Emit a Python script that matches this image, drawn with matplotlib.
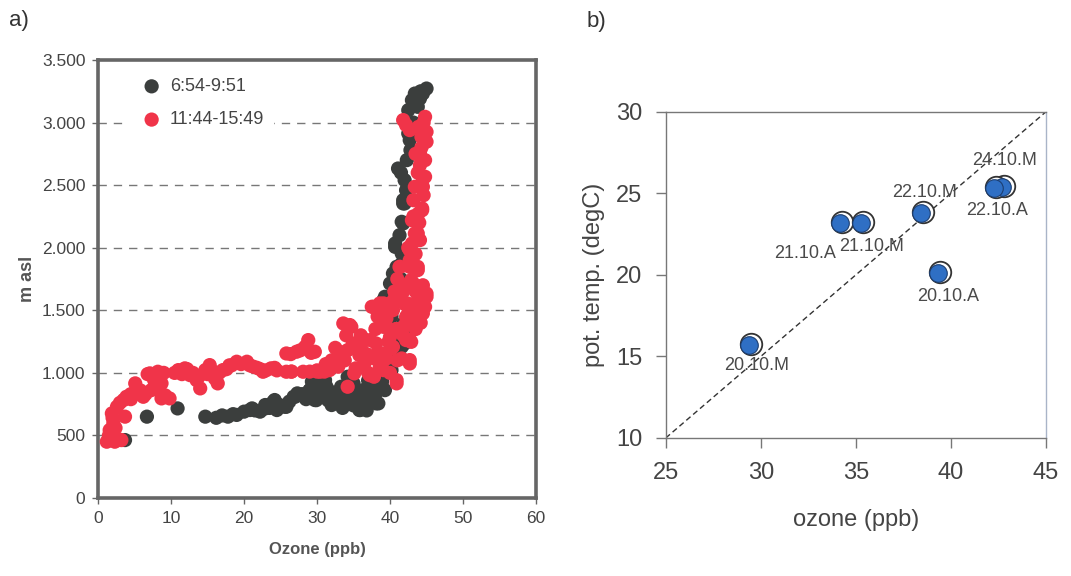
import numpy as np
import matplotlib.pyplot as plt
from matplotlib.ticker import FuncFormatter
from matplotlib.transforms import offset_copy

plt.rcParams['font.family'] = ['Liberation Sans', 'DejaVu Sans']

# panel a) ozone profiles, morning flights
morning_ozone = [3.7, 6.7, 10.9, 14.7, 16.2, 17.8, 19.0, 20.8, 22.2, 22.9, 24.0, 24.5,
                 25.8, 26.8, 27.3, 29.0, 29.9, 30.8, 31.1, 31.5, 32.4, 33.3, 34.2, 35.4,
                 35.8, 36.7, 37.6, 38.1, 38.6, 39.1, 39.5, 40.4, 41.3, 42.0, 41.8, 39.1,
                 40.0, 40.4, 40.9, 40.7, 41.6, 41.8, 42.0, 41.8, 42.0, 41.1, 42.3, 42.7,
                 42.5, 42.5, 43.0, 43.4, 44.5, 45.0, 44.1, 43.8,
                 21.1, 22.9, 24.2, 25.6, 27.0, 29.0, 29.7, 30.5, 31.3, 32.0, 35.2, 35.9,
                 36.6, 38.4, 38.9, 39.3, 40.2, 35.2,
                 41.8, 41.6, 40.7, 41.6, 40.5, 39.3, 38.9, 42.1, 41.6, 35.0, 36.3, 37.7, 38.9,
                 17.0, 18.5, 20.0, 21.5, 23.5, 24.8, 26.2, 28.0, 28.5, 30.0, 31.8, 33.0,
                 34.0, 35.0, 36.0, 36.8, 37.2, 34.5, 33.5, 32.6, 30.3, 29.3, 38.0, 37.0,
                 39.8, 40.8, 41.2, 40.2, 41.0, 41.5, 41.3, 42.2, 42.8, 43.2, 43.6, 44.2,
                 42.9, 41.5]
morning_alt = [463, 650, 716, 650, 641, 650, 664, 703, 690, 716, 769, 703,
               729, 809, 836, 862, 782, 862, 942, 782, 836, 889, 969, 809,
               703, 836, 889, 756, 942, 1022, 1155, 1235, 1315, 1235, 1395, 1581,
               1714, 1794, 1847, 2007, 1954, 2194, 2354, 2380, 2540, 2633, 2700, 2860,
               2913, 3099, 3179, 3232, 3232, 3272, 3192, 3126,
               716, 743, 783, 729, 809, 862, 783, 809, 889, 743, 783, 703,
               809, 756, 942, 862, 1022, 862,
               2354, 2207, 2034, 1874, 1714, 1608, 1475, 1315, 1208, 916, 862, 783, 929,
               660, 670, 690, 700, 720, 745, 770, 830, 790, 840, 850, 800,
               760, 740, 760, 700, 760, 840, 720, 760, 900, 930, 830, 940,
               1100, 1200, 1280, 1450, 1650, 1750, 2100, 2460, 2780, 3000, 3150, 3250,
               2900, 2600]

# panel a) ozone profiles, afternoon flights
afternoon_ozone = [1.2, 2.3, 3.2, 1.6, 2.1, 1.9, 2.6, 3.5, 3.7, 3.9, 5.1, 5.3,
                   6.2, 7.1, 8.2, 7.3, 8.7, 8.7, 9.8, 11.0, 11.9, 12.6, 13.5, 14.0,
                   14.7, 15.3, 16.0, 16.4, 17.1, 19.0, 20.4, 21.3, 22.6, 23.7, 25.8, 25.8,
                   27.2, 28.1, 28.8, 29.7, 30.4, 31.7, 32.9, 33.1, 33.6, 34.5, 34.2, 34.9,
                   35.3, 35.8, 36.3, 37.2, 37.9, 38.1, 37.5, 38.6, 39.1, 39.5, 40.2, 40.9,
                   41.6, 42.7, 42.7, 39.5, 40.4, 41.3, 42.5, 43.9, 44.8, 45.0, 44.1, 43.2,
                   41.3, 42.7, 43.8, 42.7, 43.4, 44.1, 43.9, 44.4, 43.2, 43.4, 44.5, 44.8,
                   44.1, 44.8, 44.1, 45.0, 44.3, 45.0, 44.8, 43.9, 42.7, 41.8,
                   37.7, 39.1, 40.5, 42.4, 43.8, 45.0, 44.5, 43.8, 42.2, 41.4, 42.9, 44.1,
                   42.7, 43.8, 41.4, 43.0, 43.8, 43.0, 44.4, 39.5, 40.0, 40.4, 39.1, 38.6,
                   37.3, 36.0, 34.7, 34.2, 35.1, 36.5, 37.8, 39.1, 40.9, 42.7, 42.2, 42.9,
                   4.5, 6.8, 9.0, 13.0, 18.0, 24.5, 26.5, 30.0, 32.0, 36.8, 41.0, 43.5,
                   10.5, 11.5, 12.2, 13.0, 13.8, 15.0, 15.8, 16.6, 17.6, 18.3, 19.6, 20.8,
                   21.8, 22.2, 23.0, 24.2, 26.4, 26.5, 27.7, 28.4, 29.2, 29.0, 30.0, 31.0,
                   31.2, 32.3, 32.5, 33.8, 34.0, 35.5, 36.0, 36.7, 37.0, 38.0, 38.3, 39.0,
                   39.8, 40.6, 41.0, 41.8, 42.0, 43.0, 43.5, 44.0, 44.5, 42.0, 43.5, 44.2,
                   41.8, 40.8, 41.0, 40.0, 38.2, 39.8, 42.5, 43.5, 44.0, 43.2, 44.6, 43.8,
                   44.5, 43.5, 44.3, 44.6, 42.2, 1.5, 2.8, 2.0, 3.0, 4.5, 5.8, 6.5,
                   7.7, 8.0, 9.2, 2.4]
afternoon_alt = [450, 450, 463, 543, 596, 676, 729, 783, 650, 809, 916, 836,
                 809, 996, 1009, 862, 916, 796, 796, 1022, 1036, 982, 942, 876,
                 1022, 1062, 956, 916, 1022, 1089, 1089, 1049, 1009, 1036, 1155, 1009,
                 1169, 1009, 1262, 1169, 1009, 1022, 1049, 1169, 1395, 1382, 889, 1235,
                 1036, 1142, 1275, 982, 1115, 1235, 1528, 1555, 1368, 1115, 1195, 942,
                 1115, 1102, 1262, 1435, 1501, 1581, 1475, 1448, 1528, 1634, 1661, 1714,
                 1847, 1847, 1821, 1980, 2114, 2061, 2274, 2314, 2380, 2487, 2487, 2567,
                 2660, 2700, 2753, 2847, 2886, 2926, 3046, 2966, 2940, 3020,
                 1528, 1555, 1581, 1555, 1581, 1608, 1475, 1422, 1448, 1714, 1741, 1688,
                 1900, 1847, 1847, 2034, 2114, 2220, 2300, 1368, 1288, 1208, 1155, 1049,
                 1262, 1208, 1368, 1182, 996, 1075, 969, 1022, 916, 1075, 1262, 1248,
                 830, 990, 1000, 990, 1060, 1020, 1010, 1010, 1100, 1150, 1350, 1380,
                 1000, 990, 1030, 1000, 970, 990, 1010, 1000, 1030, 1060, 1070, 1060,
                 1040, 1030, 1020, 1040, 1150, 1010, 1180, 1210, 1160, 1010, 1020, 1010,
                 1070, 1060, 1200, 1100, 1300, 1200, 1300, 1100, 1000, 1350, 1450, 1500,
                 1550, 1650, 1750, 1650, 1550, 1500, 1650, 1550, 1700, 1380, 1350, 1400,
                 1300, 1350, 1100, 1000, 1150, 1250, 2000, 1950, 2200, 2250, 2420, 2600,
                 2550, 2750, 2800, 3000, 2980, 500, 470, 640, 760, 790, 860, 830,
                 940, 870, 820, 560]

# panel b) flight means
flight_ozone = [29.4, 34.16, 35.25, 38.42, 39.33, 42.66, 42.26]
flight_theta = [15.7, 23.2, 23.2, 23.77, 20.09, 25.36, 25.3]
flight_names = ['20.10.M', '21.10.A', '21.10.M', '22.10.M', '20.10.A', '24.10.M', '22.10.A']
name_offsets = [(7, -21), (-35, -31), (11, -24), (4, 21), (10, -23), (3, 27), (3, -22)]

fig = plt.figure(figsize=(10.71, 5.76), dpi=100)

# ---- panel a
ax1 = fig.add_axes([0.0915, 0.1354, 0.409, 0.7604])
black = '#3b3e3d'
red = '#f03449'
ax1.scatter(morning_ozone, morning_alt, s=105, color=black, edgecolors='none',
            label='6:54-9:51', zorder=3)
ax1.scatter(afternoon_ozone, afternoon_alt, s=105, color=red, edgecolors='none',
            label='11:44-15:49', zorder=4)
ax1.set_xlim(0, 60)
ax1.set_ylim(0, 3500)
ax1.set_xticks(range(0, 61, 10))
ax1.set_yticks(range(0, 3501, 500))
ax1.yaxis.set_major_formatter(FuncFormatter(lambda v, p: f'{int(v):,}'.replace(',', '.')))
for v in range(500, 3001, 500):
    ax1.axhline(v, color='#777777', lw=1.0, ls=(0, (6, 5)), zorder=1)
for s in ax1.spines.values():
    s.set_color('#666666')
    s.set_linewidth(2.6)
ax1.tick_params(direction='out', length=4, width=1, color='#666666',
                labelsize=12.5, labelcolor='#444444', pad=5)
ax1.set_xlabel('Ozone (ppb)', fontsize=12, fontweight='bold', color='#555555',
               family=['Liberation Sans Narrow', 'Liberation Sans'], labelpad=12)
ax1.set_ylabel('m asl', fontsize=13, fontweight='bold', color='#555555',
               family=['Liberation Sans Narrow', 'Liberation Sans'], labelpad=4)
leg = ax1.legend(loc='upper left', bbox_to_anchor=(0.04, 1.0), frameon=True,
                 framealpha=1, edgecolor='white', fontsize=13, handletextpad=0.0,
                 labelspacing=0.9, borderpad=0.5, markerscale=1.0)
for t in leg.get_texts():
    t.set_color('#444444')

# ---- panel b
ax2 = fig.add_axes([0.6216, 0.2396, 0.3551, 0.5665])
ax2.plot([25, 45], [10, 30], color='#333333', lw=1.0, ls=(0, (4, 2.5)), zorder=2)
ring = offset_copy(ax2.transData, fig=fig, x=2, y=1, units='dots')
ax2.scatter(flight_ozone, flight_theta, s=240, color='white', edgecolors='#333333',
            linewidths=1.3, transform=ring, zorder=3)
ax2.scatter(flight_ozone, flight_theta, s=160, color='#2f6fc4', edgecolors='#1c3e70',
            linewidths=0.8, zorder=4)
for xv, yv, name, off in zip(flight_ozone, flight_theta, flight_names, name_offsets):
    ax2.annotate(name, (xv, yv), xytext=off, textcoords='offset pixels',
                 ha='center', va='center', fontsize=13, color='#4a4a4a', zorder=5)
ax2.set_xlim(25, 45)
ax2.set_ylim(10, 30)
ax2.set_xticks(range(25, 46, 5))
ax2.set_yticks(range(10, 31, 5))
for s in ax2.spines.values():
    s.set_color('#777777')
    s.set_linewidth(1.0)
ax2.spines['right'].set_color('#a9b4c8')
ax2.tick_params(direction='out', length=7, width=1, color='#777777',
                labelsize=17, labelcolor='#444444', pad=10)
ax2.set_xlabel('ozone (ppb)', fontsize=17, color='#444444', labelpad=18)
ax2.set_ylabel('pot. temp. (degC)', fontsize=17, color='#444444', labelpad=8)

fig.text(0.008, 0.965, 'a)', fontsize=16, color='#333333', va='center')
fig.text(0.548, 0.962, 'b)', fontsize=16, color='#333333', va='center')

fig.savefig('out.png', dpi=100)
